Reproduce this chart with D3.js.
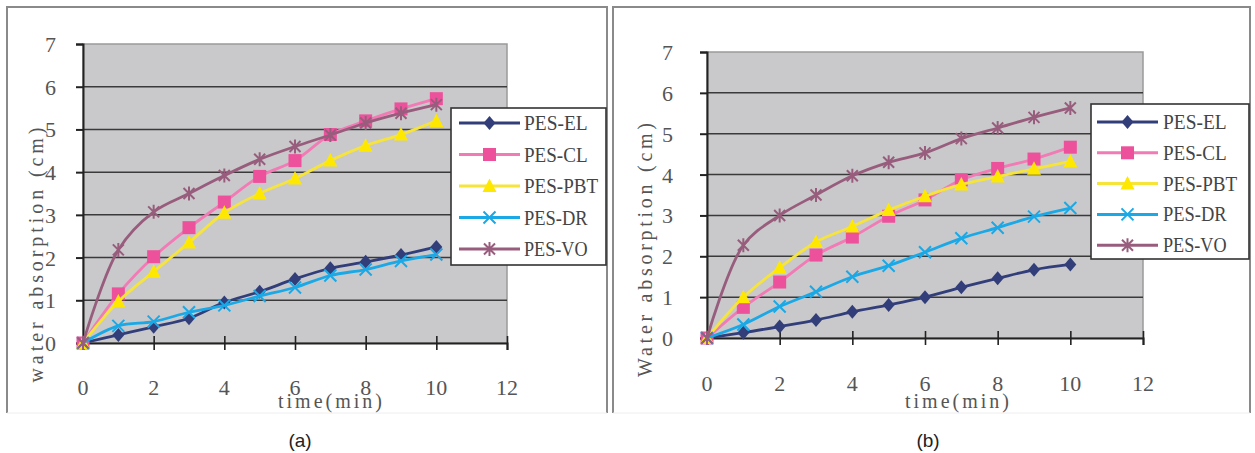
<!DOCTYPE html>
<html><head><meta charset="utf-8">
<script src="https://cdn.jsdelivr.net/npm/d3@7"></script>
<style>body{margin:0;background:#fff;}svg{display:block;}</style>
</head><body>
<svg id="c" width="1255" height="453"></svg>
<script>
// ---- data ----
const times = [0,1,2,3,4,5,6,7,8,9,10];
const seriesNames = ["PES-EL","PES-CL","PES-PBT","PES-DR","PES-VO"];
const xTicks = [0,2,4,6,8,10,12];
const yTicks = [0,1,2,3,4,5,6,7];

const aEL  = [0, 0.19, 0.38, 0.58, 0.95, 1.2, 1.5, 1.75, 1.9, 2.06, 2.25];
const aCL  = [0, 1.15, 2.02, 2.7, 3.3, 3.9, 4.27, 4.88, 5.2, 5.48, 5.72];
const aPBT = [0, 0.97, 1.67, 2.35, 3.05, 3.5, 3.85, 4.27, 4.62, 4.88, 5.2];
const aDR  = [0, 0.4, 0.5, 0.72, 0.88, 1.1, 1.3, 1.58, 1.72, 1.92, 2.07];
const aVO  = [0, 2.18, 3.07, 3.5, 3.92, 4.3, 4.6, 4.87, 5.15, 5.38, 5.58];

const bEL  = [0, 0.13, 0.28, 0.44, 0.64, 0.81, 1.0, 1.24, 1.46, 1.67, 1.8];
const bCL  = [0, 0.75, 1.37, 2.03, 2.47, 2.98, 3.38, 3.87, 4.15, 4.38, 4.67];
const bPBT = [0, 1.0, 1.72, 2.35, 2.73, 3.13, 3.47, 3.76, 3.95, 4.14, 4.32];
const bDR  = [0, 0.33, 0.77, 1.13, 1.5, 1.77, 2.1, 2.44, 2.7, 2.97, 3.18];
const bVO  = [0, 2.27, 3.0, 3.5, 3.97, 4.3, 4.53, 4.88, 5.14, 5.4, 5.63];

// ---- styles ----
const styles = {
  "PES-EL":  {line:"#323e7a", fill:"#323e7a", shape:"diamond"},
  "PES-CL":  {line:"#f27ab5", fill:"#ee519c", shape:"square"},
  "PES-PBT": {line:"#f6e43a", fill:"#ffe800", shape:"triangle"},
  "PES-DR":  {line:"#1aa9e6", fill:"#1aa9e6", shape:"x"},
  "PES-VO":  {line:"#985d7d", fill:"#985d7d", shape:"star"}
};

const panels = [
  {values:[aEL,aCL,aPBT,aDR,aVO], ylabel:"water absorption (cm)", caption:"(a)",
   frame:[7,7,607,413], plot:[83,44,507,343], yTickEnd:56, xTickY:388,
   ylab:{x:43,cy:255,len:255}, xlab:{x0:278,x1:382,y:408},
   legend:{x:451,y:108,w:155,h:157,l0:459,l1:520,tx:524,r0:123,step:31.5},
   capX:300},
  {values:[bEL,bCL,bPBT,bDR,bVO], ylabel:"Water absorption (cm)", caption:"(b)",
   frame:[613,7,1250,413], plot:[707,52,1143,338], yTickEnd:673, xTickY:384,
   ylab:{x:652,cy:250,len:254}, xlab:{x0:905,x1:1009,y:408},
   legend:{x:1091,y:104,w:158,h:155,l0:1097,l1:1158,tx:1163,r0:122,step:30.8},
   capX:928}
];

const svg = d3.select("#c");
const serif = "'Liberation Serif','Times New Roman',serif";

function marker(g, shape, color){
  if(shape==="diamond") g.append("path").attr("d","M0,-7L6,0L0,7L-6,0Z").attr("fill",color);
  else if(shape==="square") g.append("rect").attr("x",-6.5).attr("y",-6.5).attr("width",13).attr("height",13).attr("fill",color);
  else if(shape==="triangle") g.append("path").attr("d","M0,-7.5L7,6L-7,6Z").attr("fill",color);
  else if(shape==="x") g.append("path").attr("d","M-6,-6L6,6M-6,6L6,-6").attr("stroke",color).attr("stroke-width",2).attr("fill","none");
  else if(shape==="star") g.append("path").attr("d","M-5.5,-5.5L5.5,5.5M-5.5,5.5L5.5,-5.5M0,-7L0,7").attr("stroke",color).attr("stroke-width",2).attr("fill","none");
}

panels.forEach(p=>{
  const [fx0,fy0,fx1,fy1] = p.frame;
  svg.append("path").attr("d",`M${fx0},${fy1}L${fx0},${fy0}L${fx1},${fy0}L${fx1},${fy1}`)
    .attr("fill","none").attr("stroke","#8a8a8a").attr("stroke-width",2);
  svg.append("line").attr("x1",fx0).attr("x2",fx1).attr("y1",fy1).attr("y2",fy1)
    .attr("stroke","#eeeeee").attr("stroke-width",1);

  const [l,t,r,b] = p.plot;
  const x = d3.scaleLinear().domain([0,12]).range([l,r]);
  const y = d3.scaleLinear().domain([0,7]).range([b,t]);

  svg.append("rect").attr("x",l).attr("y",t).attr("width",r-l).attr("height",b-t)
    .attr("fill","#c9c9cb").attr("stroke","#9a9a9a").attr("stroke-width",1.5);

  // gridlines
  svg.append("g").selectAll("line").data(yTicks.filter(v=>v>0 && v<7)).join("line")
    .attr("x1",l).attr("x2",r).attr("y1",d=>y(d)).attr("y2",d=>y(d))
    .attr("stroke","#3a3a3a").attr("stroke-width",1.5);

  // y axis
  const ya = svg.append("g").attr("transform",`translate(${l},0)`)
    .call(d3.axisLeft(y).tickValues(yTicks).tickSize(7).tickFormat(""));
  ya.select(".domain").attr("stroke","#222").attr("stroke-width",2);
  ya.selectAll(".tick line").attr("stroke","#222").attr("stroke-width",2);
  svg.append("g").selectAll("text").data(yTicks).join("text")
    .attr("x",p.yTickEnd).attr("y",d=>y(d)+8).attr("text-anchor","end")
    .attr("font-family",serif).attr("font-size",22).attr("fill","#555").text(d=>d);

  // x axis
  const xa = svg.append("g").attr("transform",`translate(0,${b})`)
    .call(d3.axisBottom(x).tickValues(xTicks).tickSize(7).tickFormat(""));
  xa.select(".domain").attr("stroke","#222").attr("stroke-width",2);
  xa.selectAll(".tick line").attr("y1",-7).attr("stroke","#222").attr("stroke-width",1.6);
  svg.append("g").selectAll("text").data(xTicks).join("text")
    .attr("x",d=>x(d)).attr("y",p.xTickY+7).attr("text-anchor","middle")
    .attr("font-family",serif).attr("font-size",22).attr("fill","#555").text(d=>d);

  // axis titles
  svg.append("text").attr("transform",`translate(${p.ylab.x},${p.ylab.cy}) rotate(-90)`)
    .attr("text-anchor","middle").attr("font-family",serif).attr("font-size",20).attr("fill","#555")
    .attr("textLength",p.ylab.len).attr("lengthAdjust","spacing").text(p.ylabel);
  svg.append("text").attr("x",p.xlab.x0).attr("y",p.xlab.y)
    .attr("font-family",serif).attr("font-size",20).attr("fill","#555")
    .attr("textLength",p.xlab.x1-p.xlab.x0).attr("lengthAdjust","spacing").text("time(min)");

  // series
  const line = d3.line().x((d,i)=>x(times[i])).y(d=>y(d)).curve(d3.curveCatmullRom.alpha(0.5));
  seriesNames.forEach((name,si)=>{
    const st = styles[name];
    const vals = p.values[si];
    svg.append("path").datum(vals).attr("d",line).attr("fill","none")
      .attr("stroke",st.line).attr("stroke-width",2.8);
    const mg = svg.append("g");
    vals.forEach((v,i)=>{
      const g = mg.append("g").attr("transform",`translate(${x(times[i])},${y(v)})`);
      marker(g, st.shape, st.fill);
    });
  });

  // legend
  const L = p.legend;
  svg.append("rect").attr("x",L.x).attr("y",L.y).attr("width",L.w).attr("height",L.h)
    .attr("fill","#fff").attr("stroke","#333").attr("stroke-width",1.6);
  seriesNames.forEach((name,i)=>{
    const st = styles[name];
    const yy = L.r0 + i*L.step;
    svg.append("line").attr("x1",L.l0).attr("x2",L.l1).attr("y1",yy).attr("y2",yy)
      .attr("stroke",st.line).attr("stroke-width",3);
    const g = svg.append("g").attr("transform",`translate(${(L.l0+L.l1)/2},${yy})`);
    marker(g, st.shape, st.fill);
    svg.append("text").attr("x",L.tx).attr("y",yy+7).attr("font-family",serif)
      .attr("font-size",20).attr("fill","#444").attr("textLength",name.length*10.6)
      .attr("lengthAdjust","spacingAndGlyphs").text(name);
  });

  svg.append("text").attr("x",p.capX).attr("y",447).attr("text-anchor","middle")
    .attr("font-family","'Liberation Sans',Arial,sans-serif").attr("font-size",19)
    .attr("fill","#222").text(p.caption);
});
</script>
</body></html>
